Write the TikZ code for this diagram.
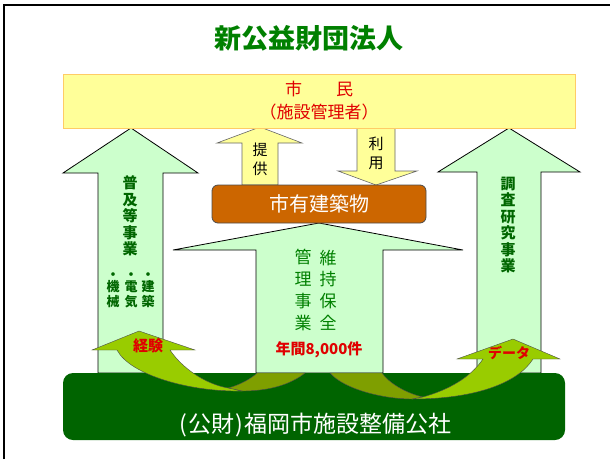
\documentclass[tikz,border=0pt]{standalone}
\usepackage{fontspec}
\usepackage{xcolor}
\setmainfont{Noto Sans CJK JP}
\usetikzlibrary{positioning}

\definecolor{citizenyellow}{HTML}{FFFF99}
\definecolor{citizenedge}{HTML}{FFCC66}
\definecolor{arrowgreen}{HTML}{CCFFCC}
\definecolor{buildingbrown}{HTML}{CC6600}
\definecolor{corpgreen}{HTML}{006400}
\definecolor{textgreen}{HTML}{006600}
\definecolor{limegreen}{HTML}{99CC00}
\definecolor{olivegreen}{HTML}{7F9F00}
\definecolor{titlegreen}{HTML}{008000}
\definecolor{labelred}{HTML}{E00000}

\begin{document}
\begin{tikzpicture}[
    x=1pt, y=-1pt,
    bigarrow/.style={draw=black, fill=arrowgreen, line width=0.8pt},
    smallarrow/.style={draw=black!60, fill=citizenyellow, line width=0.6pt},
    curvefront/.style={draw=black!70, fill=limegreen, line width=0.4pt},
    curveback/.style={draw=black!70, fill=olivegreen, line width=0.4pt},
    vtext/.style={align=center, inner sep=0pt, font=\fontsize{15}{16.4}\selectfont\bfseries, text=textgreen},
    smalltext/.style={align=center, inner sep=0pt, font=\fontsize{15}{19}\selectfont},
    redtext/.style={inner sep=0pt, font=\fontsize{15}{18}\selectfont\bfseries, text=labelred}
]
\useasboundingbox (0,0) rectangle (610,459);

% frame
\draw[line width=1.5pt] (4,459) -- (4,5) -- (610,5);

% title
\node[font=\fontsize{27}{30}\selectfont\bfseries, text=titlegreen] (title) at (309,38) {新公益財団法人};

% big arrows
\draw[bigarrow] (98,373) -- (98,173) -- (63,173) -- (131,128) -- (198,173) -- (163,173) -- (163,373) -- cycle;
\draw[bigarrow] (256,373) -- (256,250) -- (173,250) -- (319,223) -- (463,250) -- (383,250) -- (383,373) -- cycle;
\draw[bigarrow] (477,373) -- (477,172) -- (438,172) -- (509,128) -- (580,172) -- (541,172) -- (541,373) -- cycle;

% small arrows
\draw[smallarrow] (242,185) -- (242,143) -- (217,143) -- (260,127) -- (302,143) -- (278,143) -- (278,185) -- cycle;
\draw[smallarrow] (357,128) -- (357,171) -- (338,171) -- (376,185) -- (417,171) -- (395,171) -- (395,128) -- cycle;

% citizens
\node[draw=citizenedge, fill=citizenyellow, line width=0.8pt, minimum width=512pt, minimum height=54pt,
      align=center, font=\fontsize{17}{23}\selectfont, text=labelred, inner sep=0pt] (citizen) at (319,101)
      {市　　民\\（施設管理者）};

% building
\node[draw=black!70, fill=buildingbrown, line width=0.8pt, rounded corners=6pt, minimum width=214pt, minimum height=38pt,
      font=\fontsize{20}{24}\selectfont, text=white] (building) at (319,204) {市有建築物};

% corporation
\node[fill=corpgreen, rounded corners=10pt, minimum width=502pt, minimum height=67pt] (corp) at (314,406.5) {};
\node[above=3pt of corp.south, inner sep=0pt, font=\fontsize{23}{25}\selectfont, text=white] (corpname)
      {\kern3pt(\kern1pt公財\kern1pt)\kern1pt福岡市施設整備公社};

% curved arrows
\draw[curveback] (228,388) .. controls (240,385) and (252,378) .. (257,373) -- (305,373)
    .. controls (290,385) and (268,391) .. (242,391) -- cycle;
\draw[curvefront] (92,350) -- (139,331) -- (195,350) -- (170,350) .. controls (182,368) and (205,384) .. (228,388)
    -- (242,391) .. controls (190,392) and (130,375) .. (117,350) -- cycle;
\draw[curveback] (330,373) .. controls (345,390) and (385,399) .. (412,399) -- (423,397)
    .. controls (405,393) and (388,382) .. (382,373) -- cycle;
\draw[curvefront] (457,359) -- (513,339) -- (560,359) -- (533,359) .. controls (518,383) and (475,399) .. (412,399)
    -- (423,397) .. controls (448,390) and (470,378) .. (483,359) -- cycle;

% arrow texts
\node[smalltext] (provide) at (260,159) {提\\供};
\node[smalltext] (use) at (376,153) {利\\用};
\node[vtext] (spread) at (130,216) {普\\及\\等\\事\\業};
\node[vtext, font=\fontsize{13}{15}\selectfont\bfseries] (mech) at (113,290) {・\\[-3pt]機\\械};
\node[vtext, font=\fontsize{13}{15}\selectfont\bfseries] (elec) at (131,290) {・\\[-3pt]電\\気};
\node[vtext, font=\fontsize{13}{15}\selectfont\bfseries] (arch) at (148,290) {・\\[-3pt]建\\築};
\node[vtext, font=\fontsize{17}{21.7}\selectfont, text=titlegreen] (manage) at (303,290) {管\\理\\事\\業};
\node[vtext, font=\fontsize{17}{21.7}\selectfont, text=titlegreen] (maintain) at (328,290) {維\\持\\保\\全};
\node[vtext] (research) at (508,225) {調\\査\\研\\究\\事\\業};
\node[redtext] (cases) at (319,350) {年間8,000件};
\node[redtext] (experience) at (148,346) {経験};
\node[redtext, font=\fontsize{14}{18}\selectfont\bfseries] (data) at (509,353) {データ};

\end{tikzpicture}
\end{document}
